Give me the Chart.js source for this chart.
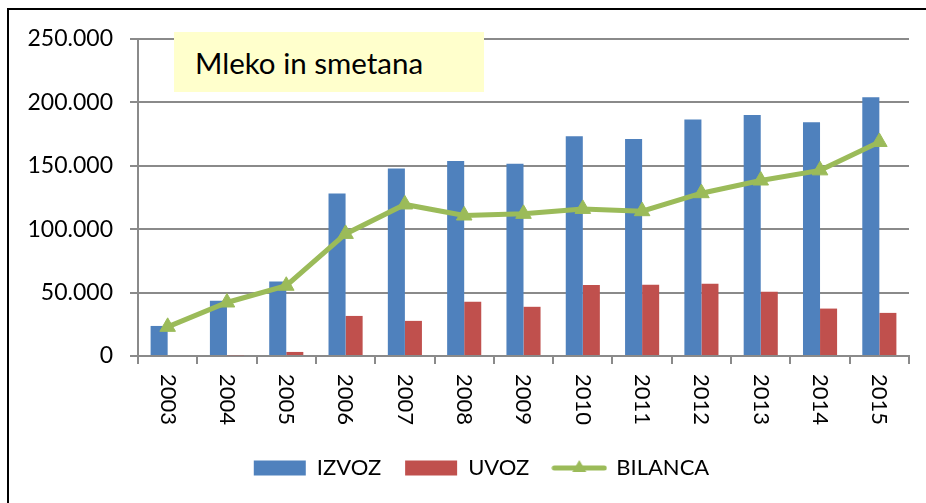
<!DOCTYPE html>
<html>
<head>
<meta charset="utf-8">
<script src="https://cdn.jsdelivr.net/npm/chart.js@4/dist/chart.umd.min.js"></script>
<style>
  html, body { margin: 0; padding: 0; background: #fff; overflow: hidden; }
  #wrap { position: relative; width: 926px; height: 503px; }
  #chart { position: absolute; left: 0; top: 0; }
  #frame {
    position: absolute; left: 7px; top: 8px; width: 1000px; height: 1000px;
    border: 2px solid #000; pointer-events: none;
  }
  #title {
    position: absolute; left: 174px; top: 32px; width: 310px; height: 60px;
    background: #ffffcc; box-sizing: border-box; padding-left: 21px;
    display: flex; align-items: center;
    font-family: Lato, sans-serif; font-size: 29.5px; color: #000;
  }
</style>
</head>
<body>
<div id="wrap">
  <canvas id="chart" width="926" height="503"></canvas>
  <div id="frame"></div>
  <div id="title">Mleko in smetana</div>
</div>
<script>
const years = ["2003", "2004", "2005", "2006", "2007", "2008", "2009", "2010", "2011", "2012", "2013", "2014", "2015"];
const izvoz = [23700, 43500, 58800, 128200, 147900, 153700, 151600, 173300, 171100, 186500, 190100, 184300, 204100];
const uvoz = [0, 600, 3200, 31600, 27700, 42700, 38800, 55900, 56200, 57000, 50600, 37400, 34000];
const bilanca = [23000, 42200, 55400, 96300, 119500, 110800, 112100, 116000, 114200, 128400, 138400, 146400, 168800];
const yTicks = [0, 50000, 100000, 150000, 200000, 250000];
const yTickLabels = ["0", "50.000", "100.000", "150.000", "200.000", "250.000"];

const BLUE = "#4f81bd";
const RED = "#c0504d";
const GREEN = "#9bbb59";
const GRID = "#8a8a8a";
const FONT = "Lato, sans-serif";

// legend glyph for the line series: line with a triangle in the middle
function lineGlyph() {
    const c = document.createElement("canvas");
    c.width = 56;
    c.height = 20;
    const g = c.getContext("2d");
    g.strokeStyle = GREEN;
    g.lineWidth = 5;
    g.lineCap = "round";
    g.beginPath();
    g.moveTo(3, 10);
    g.lineTo(53, 10);
    g.stroke();
    g.fillStyle = GREEN;
    g.beginPath();
    g.moveTo(28, 2);
    g.lineTo(35, 14);
    g.lineTo(21, 14);
    g.closePath();
    g.fill();
    return c;
}
const glyph = lineGlyph();

// x labels read top to bottom, drawn at the scale's tick positions
const rotatedLabels = {
    id: "rotatedLabels",
    afterLayout(chart) {
        // legend sits a bit right of centre in the original
        chart.legend.left += 27;
        chart.legend.right += 27;
    },
    afterDraw(chart) {
        const xs = chart.scales.x;
        const ctx = chart.ctx;
        ctx.save();
        ctx.font = "22px " + FONT;
        ctx.fillStyle = "#000";
        ctx.textAlign = "left";
        ctx.textBaseline = "middle";
        xs.ticks.forEach((t, i) => {
            ctx.save();
            ctx.translate(xs.getPixelForTick(i), xs.top + 18);
            ctx.rotate(Math.PI / 2);
            ctx.fillText(years[i], 0, 0);
            ctx.restore();
        });
        ctx.restore();
    }
};

new Chart(document.getElementById("chart"), {
    type: "bar",
    data: {
        labels: years,
        datasets: [
            {
                label: "IZVOZ",
                data: izvoz,
                backgroundColor: BLUE,
                borderWidth: 0,
                order: 1,
                pointStyle: "rect"
            },
            {
                label: "UVOZ",
                data: uvoz,
                backgroundColor: RED,
                borderWidth: 0,
                order: 1,
                pointStyle: "rect"
            },
            {
                type: "line",
                label: "BILANCA",
                data: bilanca,
                borderColor: GREEN,
                backgroundColor: GREEN,
                borderWidth: 5,
                pointStyle: "triangle",
                pointRadius: 9,
                pointBorderWidth: 1,
                pointBackgroundColor: GREEN,
                pointBorderColor: GREEN,
                tension: 0,
                order: 0
            }
        ]
    },
    options: {
        responsive: false,
        animation: false,
        layout: {
            padding: { left: 0, right: 17, top: 39, bottom: 14 }
        },
        datasets: {
            bar: {
                categoryPercentage: 0.575,
                barPercentage: 1
            }
        },
        plugins: {
            tooltip: { enabled: false },
            legend: {
                position: "bottom",
                labels: {
                    font: { family: FONT, size: 22 },
                    color: "#000",
                    usePointStyle: true,
                    pointStyleWidth: 52,
                    boxHeight: 15,
                    padding: 24,
                    generateLabels(chart) {
                        const items = Chart.defaults.plugins.legend.labels.generateLabels(chart);
                        items.sort((a, b) => a.datasetIndex - b.datasetIndex);
                        items.forEach(it => {
                            if (it.datasetIndex === 2) {
                                it.pointStyle = glyph;
                            } else {
                                it.pointStyle = "rect";
                                it.lineWidth = 0;
                            }
                        });
                        return items;
                    }
                }
            }
        },
        scales: {
            x: {
                afterFit(s) { s.height = 77; },
                grid: {
                    display: true,
                    drawOnChartArea: false,
                    drawTicks: true,
                    tickLength: 8,
                    color: GRID,
                    lineWidth: 2,
                    offset: true
                },
                border: { color: GRID, width: 2 },
                ticks: {
                    color: "rgba(0,0,0,0)",
                    font: { family: FONT, size: 22 },
                    minRotation: 90,
                    maxRotation: 90
                }
            },
            y: {
                min: 0,
                max: 250000,
                afterFit(s) { s.width = 138; },
                afterBuildTicks(s) { s.ticks = yTicks.map(v => ({ value: v })); },
                grid: {
                    color: GRID,
                    lineWidth: 2,
                    drawTicks: true,
                    tickLength: 8
                },
                border: { color: GRID, width: 2 },
                ticks: {
                    color: "#000",
                    font: { family: FONT, size: 23 },
                    padding: 17,
                    callback: (v) => yTickLabels[yTicks.indexOf(v)]
                }
            }
        }
    },
    plugins: [rotatedLabels]
});
</script>
</body>
</html>
